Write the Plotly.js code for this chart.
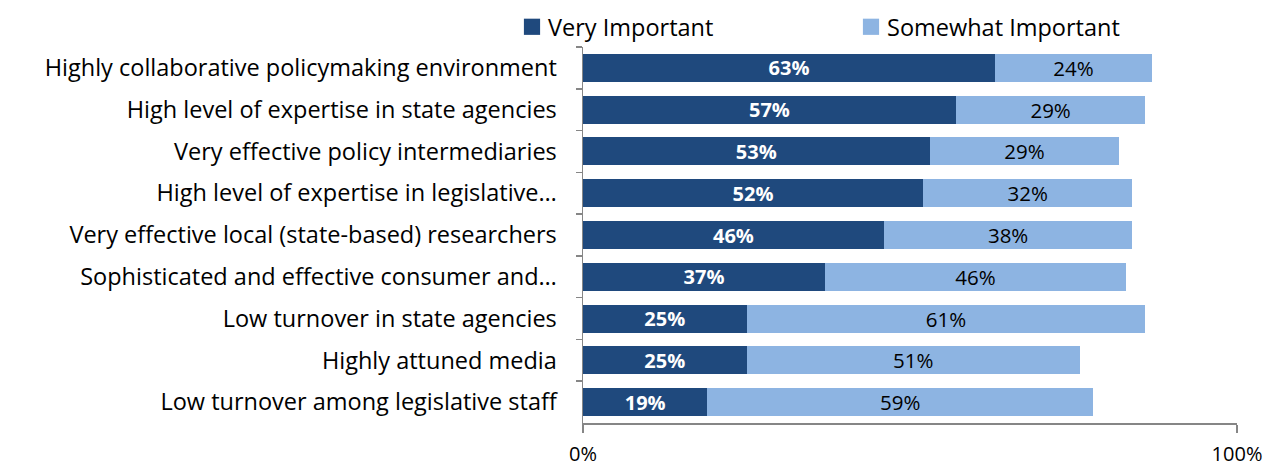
<!DOCTYPE html>
<html><head><meta charset="utf-8">
<script src="https://cdn.plot.ly/plotly-3.0.1.min.js"></script>
<style>
html,body{margin:0;padding:0;background:#fff}
#chart .legendpoints path{transform:translate(24px,0) scale(1.35)}
</style>
</head><body>
<div id="chart" style="width:1267px;height:466px"></div>
<script>
const categories = [
  "Highly collaborative policymaking environment",
  "High level of expertise in state agencies",
  "Very effective policy intermediaries",
  "High level of expertise in legislative…",
  "Very effective local (state-based) researchers",
  "Sophisticated and effective consumer and…",
  "Low turnover in state agencies",
  "Highly attuned media",
  "Low turnover among legislative staff"
];
const veryImportant = [0.63, 0.57, 0.53, 0.52, 0.46, 0.37, 0.25, 0.25, 0.19];
const somewhatImportant = [0.24, 0.29, 0.29, 0.32, 0.38, 0.46, 0.61, 0.51, 0.59];
const seriesNames = ["Very Important", "Somewhat Important"];
const xTickVals = [0, 1];
const xTickText = ["0%", "100%"];

const FONT = "'Open Sans', 'Liberation Sans', sans-serif";
const pct = v => Math.round(v * 100) + "%";

const traces = [
  {
    type: "bar", orientation: "h", name: seriesNames[0], legend: "legend",
    y: categories, x: veryImportant,
    marker: {color: "#1F497D"},
    text: veryImportant.map(pct), textposition: "inside", insidetextanchor: "middle",
    textfont: {family: FONT, size: 20, color: "#ffffff", weight: "bold"},
    constraintext: "none", hoverinfo: "skip"
  },
  {
    type: "bar", orientation: "h", name: seriesNames[1], legend: "legend2",
    y: categories, x: somewhatImportant,
    marker: {color: "#8DB4E2"},
    text: somewhatImportant.map(pct), textposition: "inside", insidetextanchor: "middle",
    textfont: {family: FONT, size: 20.5, color: "#000000"},
    constraintext: "none", hoverinfo: "skip"
  }
];

const legendBase = {
  orientation: "h", xref: "container", yref: "container",
  xanchor: "left", y: 1 - 27 / 466, yanchor: "middle",
  font: {family: FONT, size: 23.5, color: "#000"},
  itemclick: false, itemdoubleclick: false, bgcolor: "rgba(0,0,0,0)"
};

const layout = {
  width: 1267, height: 466,
  margin: {l: 583, r: 30, t: 47, b: 43, autoexpand: false},
  barmode: "stack", bargap: 0.33,
  paper_bgcolor: "#fff", plot_bgcolor: "#fff",
  font: {family: FONT, size: 23.5, color: "#000"},
  showlegend: true,
  legend: Object.assign({}, legendBase, {x: 508 / 1267}),
  legend2: Object.assign({}, legendBase, {x: 847 / 1267}),
  xaxis: {
    range: [0, 1], tickvals: xTickVals, ticktext: xTickText,
    showgrid: false, zeroline: false,
    showline: true, linecolor: "#868686", linewidth: 1.5,
    ticks: "outside", ticklen: 8, tickcolor: "#868686", tickwidth: 1.5,
    ticklabelstandoff: 4,
    tickfont: {family: FONT, size: 20, color: "#000"}, fixedrange: true
  },
  yaxis: {
    autorange: "reversed", type: "category",
    showgrid: false, zeroline: false,
    showline: true, linecolor: "#868686", linewidth: 1.5,
    ticks: "outside", tickson: "boundaries", ticklen: 6, tickcolor: "#868686", tickwidth: 1.5,
    ticklabelstandoff: 20,
    tickfont: {family: FONT, size: 23.5, color: "#000"}, fixedrange: true
  }
};

Plotly.newPlot("chart", traces, layout, {displayModeBar: false, staticPlot: true});
</script>
</body></html>
